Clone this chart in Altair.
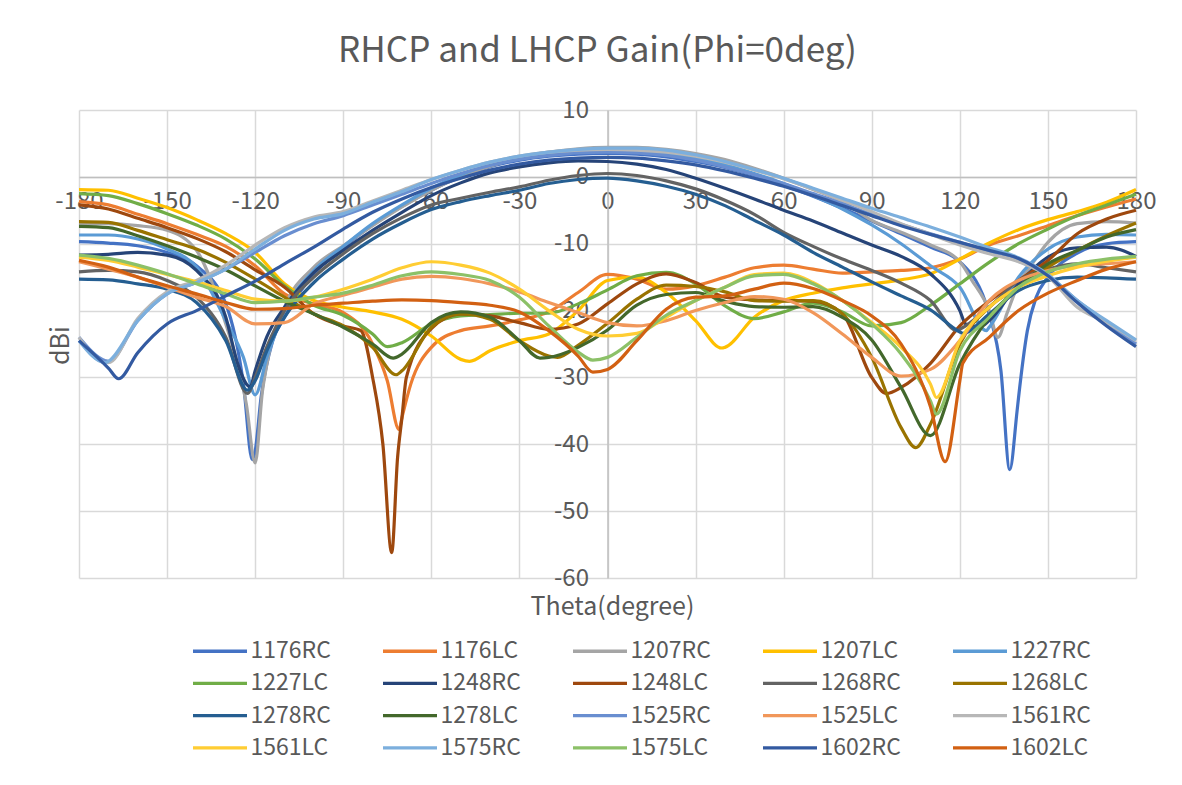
import altair as alt
import pandas as pd

FONT = "Noto Sans CJK SC"
TEXT = "#595959"

# Theta sampling grid (degrees), shared by every series
THETA = list(range(-180, 181, 10))

SERIES = [
    "1176RC", "1176LC", "1207RC", "1207LC", "1227RC",
    "1227LC", "1248RC", "1248LC", "1268RC", "1268LC",
    "1278RC", "1278LC", "1525RC", "1525LC", "1561RC",
    "1561LC", "1575RC", "1575LC", "1602RC", "1602LC",
]

COLORS = [
    "#4472C4", "#ED7D31", "#A5A5A5", "#FFC000", "#5B9BD5",
    "#70AD47", "#264478", "#9E480E", "#636363", "#997300",
    "#255E91", "#43682B", "#698ED0", "#F1975A", "#B7B7B7",
    "#FFCD33", "#7CAFDD", "#8CC168", "#335AA1", "#D26012",
]

# Gain in dBi at each THETA value
GAIN = {
    "1176RC": [-9.7, -9.9, -10.3, -11.3, -13.3, -19.0, -41.0, -21.0, -14.5, -10.6, -7.2, -4.4, -2.0, 0.0, 1.5, 2.5, 3.1, 3.4, 3.5,
               3.4, 3.0, 2.3, 1.4, 0.2, -1.3, -2.9, -4.7, -6.6, -8.5, -10.5, -12.7, -20.5, -33.0, -15.0, -11.4, -10.0, -9.7],
    "1176LC": [-3.7, -4.2, -5.6, -7.0, -8.6, -10.4, -13.3, -17.5, -19.0, -20.3, -25.0, -36.0, -25.5, -23.0, -22.3, -21.4, -20.2, -17.3, -14.6,
               -15.3, -16.8, -16.3, -15.0, -13.6, -13.2, -13.8, -14.4, -14.2, -14.0, -13.6, -12.3, -10.2, -8.8, -7.3, -5.8, -4.5, -3.3],
    "1207RC": [-7.0, -7.0, -7.3, -8.0, -11.0, -22.0, -42.8, -19.5, -13.5, -10.3, -7.3, -4.5, -2.0, 0.0, 1.6, 2.9, 3.7, 4.2, 4.4,
               4.4, 4.1, 3.5, 2.6, 1.3, -0.2, -1.9, -3.7, -6.5, -8.3, -10.2, -12.7, -20.0, -16.0, -9.8, -7.0, -6.7, -6.9],
    "1207LC": [-1.9, -2.0, -3.2, -4.6, -6.4, -8.5, -11.3, -16.0, -18.5, -19.5, -20.2, -21.3, -23.8, -27.3, -26.0, -24.5, -23.5, -20.0, -15.5,
               -15.0, -17.3, -21.5, -25.5, -21.0, -18.5, -17.4, -16.6, -16.0, -15.4, -14.5, -12.3, -9.9, -7.9, -6.4, -5.2, -3.8, -1.9],
    "1227RC": [-8.7, -8.7, -9.3, -10.8, -13.5, -21.5, -32.6, -20.0, -14.0, -10.4, -7.0, -4.2, -1.7, 0.3, 1.9, 3.0, 3.6, 3.9, 4.0,
               3.9, 3.5, 2.8, 1.8, 0.5, -1.0, -2.8, -4.8, -7.2, -10.0, -13.3, -16.5, -22.5, -15.0, -10.8, -9.0, -8.6, -8.7],
    "1227LC": [-2.5, -2.8, -4.0, -5.5, -7.2, -9.3, -12.3, -16.3, -19.2, -20.7, -23.5, -24.8, -22.0, -20.8, -20.6, -20.4, -20.4, -19.0, -16.9,
               -14.8, -14.3, -16.0, -19.3, -21.2, -20.2, -18.9, -20.2, -22.3, -21.8, -19.2, -16.0, -12.8, -10.0, -7.8, -5.8, -4.2, -2.6],
    "1248RC": [-11.7, -11.6, -11.3, -11.7, -14.0, -21.0, -29.0, -19.5, -14.3, -11.0, -8.0, -5.3, -2.8, -0.9, 0.6, 1.5, 2.1, 2.4, 2.3,
               1.9, 1.1, -0.2, -1.7, -3.3, -5.0, -6.6, -8.4, -10.2, -11.9, -14.5, -20.0, -21.5, -16.0, -12.0, -10.6, -10.5, -11.9],
    "1248LC": [-4.2, -4.8, -6.2, -7.6, -9.2, -11.2, -13.9, -16.5, -20.5, -22.3, -30.0, -36.0, -22.7, -20.5, -20.8, -21.8, -22.8, -22.0, -19.0,
               -16.0, -14.5, -15.8, -18.0, -18.4, -18.5, -18.6, -20.5, -30.0, -31.5, -27.9, -22.3, -18.6, -15.5, -12.5, -8.5, -6.3, -5.0],
    "1268RC": [-14.2, -14.0, -14.2, -15.5, -18.0, -24.0, -30.0, -20.0, -15.0, -11.5, -8.5, -6.1, -4.2, -3.2, -2.3, -1.5, -0.5, 0.2, 0.5,
               0.2, -0.6, -1.8, -3.5, -5.6, -8.3, -10.4, -12.3, -14.0, -15.9, -18.5, -22.8, -19.5, -15.5, -13.8, -13.0, -13.6, -14.2],
    "1268LC": [-6.7, -6.8, -8.0, -9.4, -10.8, -12.8, -15.3, -18.0, -20.5, -22.3, -25.5, -29.0, -22.5, -20.5, -21.3, -24.5, -26.8, -25.2, -21.9,
               -18.3, -16.2, -16.4, -17.2, -18.5, -18.6, -18.5, -20.5, -27.0, -37.5, -37.0, -25.0, -19.5, -16.5, -13.5, -11.0, -8.8, -6.9],
    "1278RC": [-15.3, -15.4, -16.0, -16.8, -18.8, -24.5, -30.5, -21.0, -15.8, -12.3, -9.3, -6.9, -4.9, -3.7, -2.8, -2.0, -1.0, -0.4, -0.2,
               -0.6, -1.4, -2.6, -4.3, -6.5, -8.7, -11.3, -13.5, -15.7, -17.8, -19.9, -23.2, -20.5, -17.0, -15.5, -15.0, -15.1, -15.3],
    "1278LC": [-7.4, -7.6, -8.8, -10.3, -12.0, -13.9, -16.3, -18.6, -20.5, -22.5, -25.0, -26.5, -21.8, -20.2, -21.0, -24.5, -27.0, -25.5, -22.9,
               -19.2, -17.6, -17.3, -18.6, -19.4, -19.5, -19.4, -21.0, -24.4, -31.5, -38.7, -28.0, -21.0, -16.5, -13.0, -11.0, -9.0, -7.9],
    "1525RC": [-24.0, -27.6, -21.5, -17.5, -15.8, -13.8, -11.3, -8.8, -7.0, -5.8, -4.2, -2.6, -1.0, 0.5, 1.7, 2.6, 3.2, 3.6, 3.7,
               3.6, 3.2, 2.5, 1.5, 0.3, -1.0, -2.5, -4.0, -5.6, -7.1, -8.5, -9.8, -11.2, -12.6, -14.8, -18.5, -21.8, -25.0],
    "1525LC": [-12.7, -13.8, -15.0, -16.5, -18.0, -19.4, -22.0, -21.8, -19.0, -17.7, -16.5, -15.3, -14.9, -15.2, -16.0, -17.2, -18.8, -20.3, -21.8,
               -22.3, -21.5, -20.0, -18.8, -17.9, -18.3, -20.3, -23.5, -27.0, -29.8, -28.8, -24.5, -18.5, -15.5, -14.0, -13.3, -13.0, -12.7],
    "1561RC": [-24.0, -27.8, -21.2, -17.2, -15.5, -13.2, -10.2, -7.6, -6.0, -5.2, -3.6, -2.0, -0.4, 1.0, 2.2, 3.1, 3.7, 4.0, 4.1,
               4.0, 3.7, 3.1, 2.2, 1.0, -0.3, -1.8, -3.5, -5.2, -7.0, -8.6, -10.2, -11.5, -12.7, -14.9, -19.5, -21.8, -24.5],
    "1561LC": [-12.0, -12.5, -13.5, -14.6, -15.7, -17.0, -18.3, -18.6, -18.0, -16.8, -15.3, -13.6, -12.7, -13.2, -14.4, -16.8, -20.0, -22.8, -23.8,
               -23.4, -21.0, -18.5, -16.5, -14.6, -14.4, -15.8, -18.5, -21.8, -25.5, -31.0, -24.5, -19.5, -16.5, -14.8, -13.5, -12.6, -12.0],
    "1575RC": [-24.5, -27.6, -21.5, -17.5, -15.8, -13.8, -10.8, -8.0, -6.3, -5.5, -3.8, -2.2, -0.4, 1.0, 2.2, 3.1, 3.7, 4.1, 4.3,
               4.3, 4.0, 3.3, 2.3, 1.1, -0.2, -1.7, -3.2, -4.7, -6.1, -7.5, -9.0, -10.6, -12.1, -14.6, -18.5, -21.5, -24.4],
    "1575LC": [-11.7, -12.2, -13.2, -14.5, -16.0, -17.5, -18.8, -18.6, -18.0, -17.4, -16.2, -14.8, -14.2, -14.6, -15.5, -18.0, -22.3, -26.2, -27.0,
               -24.0, -20.7, -18.5, -16.5, -14.8, -14.6, -16.0, -18.5, -22.0, -26.5, -33.5, -26.0, -21.0, -16.5, -14.2, -13.0, -12.3, -11.9],
    "1602RC": [-24.5, -28.6, -26.3, -22.0, -20.0, -17.8, -15.6, -13.0, -10.5, -7.8, -5.3, -3.3, -1.6, -0.2, 1.0, 1.9, 2.5, 2.8, 2.9,
               2.8, 2.4, 1.8, 0.9, -0.2, -1.4, -2.8, -4.3, -5.8, -7.3, -8.6, -9.8, -11.0, -12.2, -14.8, -18.8, -22.3, -25.4],
    "1602LC": [-12.5, -13.5, -15.0, -16.3, -17.5, -18.8, -19.8, -19.7, -19.2, -18.9, -18.6, -18.4, -18.5, -18.8, -19.2, -20.2, -23.0, -26.8, -28.8,
               -24.5, -19.8, -18.0, -17.8, -16.8, -15.9, -16.7, -18.5, -20.8, -25.0, -34.4, -30.5, -24.0, -20.0, -17.4, -15.5, -13.8, -12.7],
}

# Extra samples inside the narrow nulls, as (theta, dBi)
NULLS = {
    "1176RC": [(-124, -31.0), (-121, -42.3), (-118, -33.0), (-114, -24.5), (134, -29.0), (137, -43.8), (139.5, -35.0), (143, -23.0), (146, -18.0)],
    "1176LC": [(-75, -30.5), (-71, -37.8), (-67, -31.0)],
    "1207RC": [(-126, -28.0), (-123, -34.0), (-117.5, -32.0), (-116, -28.0), (124, -15.4), (133, -24.0), (136, -20.5), (144, -13.4)],
    "1207LC": [(-47, -27.6), (39, -25.6)],
    "1227RC": [(-124, -27.0), (-116, -27.0), (129, -23.0)],
    "1227LC": [(-75, -25.4)],
    "1248RC": [(-126, -27.9), (-121.7, -31.4), (-116, -23.9), (122, -22.0), (127, -22.4)],
    "1248LC": [(-84, -23.0), (-76.5, -40.0), (-73.5, -56.2), (-71.5, -42.0), (-68.5, -30.0), (95, -32.4)],
    "1268RC": [(-122.6, -32.4), (-116, -25.4), (119, -23.0)],
    "1268LC": [(-72, -29.6), (-17, -27.0), (105, -40.5)],
    "1278RC": [(-122.6, -31.9), (-116, -26.0), (121, -23.4)],
    "1278LC": [(-73, -27.1), (-23, -27.1)],
    "1525RC": [(-171, -27.5)],
    "1561RC": [(-171, -27.8)],
    "1561LC": [(112, -33.0)],
    "1575RC": [(-171, -27.8)],
    "1575LC": [(-5, -27.4), (112, -35.5)],
    "1602RC": [(-166.5, -30.2)],
    "1602LC": [(-5, -29.2), (115, -42.6), (121, -27.9)],
}

rows = []
for name in SERIES:
    pts = dict(zip(THETA, GAIN[name]))
    pts.update(dict(NULLS.get(name, [])))
    for t in sorted(pts):
        rows.append({"theta": t, "gain": pts[t], "series": name})
df = pd.DataFrame(rows)

x_axis = alt.Axis(
    values=list(range(-180, 181, 30)),
    labelExpr="'' + datum.value",
    offset=-401,
    ticks=False,
    tickSize=0,
    labelPadding=12,
    labelFlush=False,
    labelOverlap=False,
    labelFont=FONT,
    labelFontSize=24,
    labelColor=TEXT,
    domainColor="#BFBFBF",
    domainWidth=1.5,
    gridColor="#D9D9D9",
    gridWidth=1.5,
    title="Theta(degree)",
    titleFont=FONT,
    titleFontSize=25,
    titleFontWeight="normal",
    titleColor=TEXT,
    titleX=533,
    titleY=429,
    titleAlign="center",
    titleBaseline="middle",
)

y_axis = alt.Axis(
    values=list(range(-60, 11, 10)),
    labelExpr="'' + datum.value",
    offset=-528.5,
    ticks=False,
    tickSize=0,
    labelPadding=19,
    labelFlush=False,
    labelOverlap=False,
    labelFont=FONT,
    labelFontSize=24,
    labelColor=TEXT,
    domainColor="#BFBFBF",
    domainWidth=1.5,
    gridColor="#D9D9D9",
    gridWidth=1.5,
    title="dBi",
    titleFont=FONT,
    titleFontSize=25,
    titleFontWeight="normal",
    titleColor=TEXT,
    titleX=-547.5,
    titleY=235,
    titleAngle=270,
    titleAlign="center",
    titleBaseline="middle",
)

legend = alt.Legend(
    title=None,
    orient="none",
    legendX=114,
    legendY=525.5,
    direction="horizontal",
    columns=5,
    gridAlign="all",
    padding=0,
    symbolType="M-2,0H2",
    symbolSize=729,
    symbolStrokeWidth=3.3,
    symbolOffset=11.5,
    labelOffset=15,
    labelFont=FONT,
    labelFontSize=23,
    labelColor=TEXT,
    columnPadding=45,
    rowPadding=4.3,
)

chart = (
    alt.Chart(df)
    .mark_line(interpolate="monotone", strokeWidth=3.2)
    .encode(
        x=alt.X("theta:Q", scale=alt.Scale(domain=[-180, 180], nice=False, zero=False), axis=x_axis),
        y=alt.Y("gain:Q", scale=alt.Scale(domain=[-60, 10], nice=False, zero=False), axis=y_axis),
        color=alt.Color("series:N", sort=SERIES, scale=alt.Scale(domain=SERIES, range=COLORS), legend=legend),
    )
    .properties(
        width=1057,
        height=468,
        autosize=alt.AutoSizeParams(type="none"),
        padding={"left": 79, "top": 110, "right": 46, "bottom": 207},
        title=alt.TitleParams(
            "RHCP and LHCP Gain(Phi=0deg)",
            font=FONT,
            fontSize=35,
            fontWeight="normal",
            color=TEXT,
            anchor="middle",
            frame="group",
            dx=-10,
            offset=29.5,
        ),
    )
    .configure_view(strokeWidth=0)
)

chart.save("out.html", embed_options={"renderer": "svg", "actions": False})
